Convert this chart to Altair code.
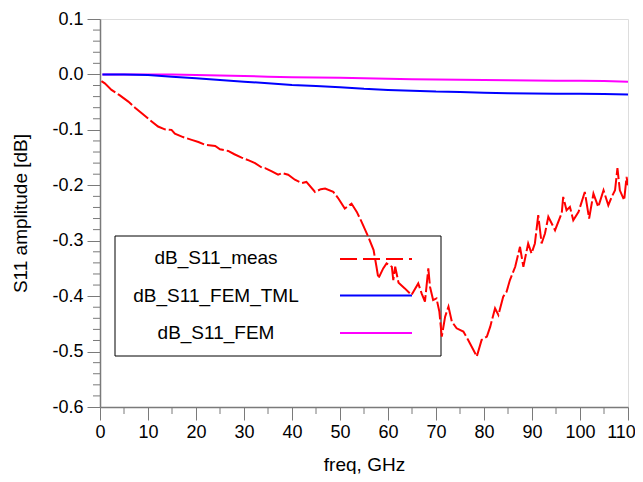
import altair as alt
import pandas as pd

# ---------------- data ----------------
freq_meas = [0.3, 1.0, 2.4, 4.0, 5.9, 7.3, 8.7, 10.5, 12.1, 13.5, 14.9, 15.6, 17.3, 19.1,
             20.5, 21.9, 24.0, 25.0, 26.7, 28.0, 29.5, 31.0, 32.3, 33.7, 34.4, 35.8, 37.1,
             38.0, 39.2, 40.6, 42.0, 43.0, 44.8, 46.0, 46.9, 48.6, 49.6, 51.0, 52.4, 53.5,
             54.5, 55.9, 57.0, 57.6, 58.0, 59.0, 59.7, 60.8, 61.1, 61.5, 62.2, 63.5, 64.9,
             66.3, 67.0, 67.7, 68.4, 68.75, 69.4, 70.1, 70.7, 71.2, 71.9, 72.6, 73.3, 74.3,
             75.7, 76.7, 77.8, 78.5, 79.5, 80.6, 81.3, 82.3, 83.0, 84.0, 84.7, 85.4, 86.5,
             87.5, 88.2, 89.2, 89.9, 90.6, 91.3, 92.0, 92.7, 93.4, 94.8, 96.2, 96.5, 97.2,
             97.9, 98.6, 99.7, 101.0, 101.9, 102.8, 103.8, 104.9, 105.9, 106.6, 107.3,
             107.8, 108.3, 109.2, 109.7, 110.0]
s11_meas = [-0.012, -0.016, -0.028, -0.037, -0.049, -0.060, -0.070, -0.083, -0.094, -0.099,
            -0.100, -0.107, -0.113, -0.118, -0.122, -0.127, -0.129, -0.135, -0.138, -0.144,
            -0.150, -0.155, -0.160, -0.168, -0.169, -0.175, -0.181, -0.178, -0.181, -0.190,
            -0.196, -0.194, -0.212, -0.207, -0.206, -0.212, -0.223, -0.242, -0.233, -0.248,
            -0.266, -0.293, -0.317, -0.347, -0.368, -0.350, -0.341, -0.347, -0.371, -0.347,
            -0.376, -0.386, -0.398, -0.377, -0.395, -0.410, -0.350, -0.383, -0.407, -0.404,
            -0.428, -0.473, -0.437, -0.419, -0.446, -0.458, -0.464, -0.479, -0.497, -0.509,
            -0.479, -0.473, -0.455, -0.422, -0.434, -0.401, -0.392, -0.371, -0.347, -0.311,
            -0.347, -0.305, -0.323, -0.305, -0.254, -0.305, -0.287, -0.257, -0.281, -0.250,
            -0.221, -0.245, -0.239, -0.263, -0.248, -0.212, -0.260, -0.215, -0.239, -0.209,
            -0.236, -0.221, -0.209, -0.169, -0.209, -0.227, -0.185, -0.200]

freq_model = [0.5, 5, 10, 15, 20, 25, 30, 35, 40, 45, 50, 55, 60, 65, 70, 75, 80, 85, 90,
              95, 100, 105, 110]
s11_fem_tml = [0.0, 0.0, -0.001, -0.004, -0.007, -0.010, -0.013, -0.016, -0.019, -0.021,
               -0.023, -0.026, -0.028, -0.0295, -0.031, -0.0315, -0.033, -0.034, -0.0345,
               -0.035, -0.035, -0.0355, -0.036]
s11_fem = [0.0, 0.0, 0.0, 0.0, -0.001, -0.002, -0.003, -0.004, -0.005, -0.0055, -0.006,
           -0.007, -0.008, -0.0085, -0.009, -0.0095, -0.010, -0.0105, -0.011, -0.0112,
           -0.0115, -0.012, -0.013]

legend_labels = ["dB_S11_meas", "dB_S11_FEM_TML", "dB_S11_FEM"]
series_colors = ["#ff0000", "#0000ff", "#ff00ff"]

x_ticks = list(range(0, 111, 10))
x_minor = list(range(5, 110, 10))
y_ticks = [-0.6, -0.5, -0.4, -0.3, -0.2, -0.1, 0.0, 0.1]
y_minor = [round(-0.6 + 0.02 * i, 2) for i in range(36) if i % 5]

# ---------------- chart ----------------
W, H = 528, 388
FONT = "Liberation Sans"
GREY = "#7a7a7a"

meas_df = pd.DataFrame({"freq": freq_meas, "s11": s11_meas})
model_df = pd.DataFrame({"freq": freq_model, "tml": s11_fem_tml, "fem": s11_fem})

xs = alt.Scale(domain=[0, 110], nice=False, zero=False)
ys = alt.Scale(domain=[-0.6, 0.1], nice=False, zero=False)

xaxis = alt.Axis(values=x_ticks, format="d", title="freq, GHz", grid=False,
                 tickSize=13, tickColor=GREY, tickWidth=1, domainColor=GREY, domainWidth=1.5,
                 labelFont=FONT, labelFontSize=18, labelColor="black", labelPadding=3,
                 labelFlush=False, labelOverlap=False,
                 labelOffset={"condition": {"test": "datum.value == 110", "value": -7},
                              "value": 0},
                 titleFont=FONT, titleFontSize=19, titleFontWeight="normal", titleColor="black",
                 titleY=63, titleBaseline="alphabetic", titleX=W / 2, titleAlign="center")
yaxis = alt.Axis(values=y_ticks, title="S11 amplitude [dB]", grid=False,
                 labelExpr="datum.value < -0.001 ? '-' + format(-datum.value, '.1f') : format(datum.value, '.1f')",
                 tickSize=13, tickColor=GREY, tickWidth=1, domainColor=GREY, domainWidth=1.5,
                 labelFont=FONT, labelFontSize=18, labelColor="black", labelPadding=4,
                 labelFlush=False, labelOverlap=False,
                 titleFont=FONT, titleFontSize=19, titleFontWeight="normal", titleColor="black",
                 titleAngle=270, titleX=-70, titleY=H / 2, titleAlign="center",
                 titleBaseline="bottom")

x_enc = alt.X("freq:Q", scale=xs, axis=xaxis)

fem_line = alt.Chart(model_df).mark_line(color=series_colors[2], strokeWidth=2, clip=True).encode(
    x=x_enc, y=alt.Y("fem:Q", scale=ys, axis=yaxis))
tml_line = alt.Chart(model_df).mark_line(color=series_colors[1], strokeWidth=2, clip=True).encode(
    x=x_enc, y=alt.Y("tml:Q", scale=ys, axis=yaxis))
meas_line = alt.Chart(meas_df).mark_line(color=series_colors[0], strokeWidth=2,
                                         strokeDash=[18, 3], clip=True).encode(
    x=x_enc, y=alt.Y("s11:Q", scale=ys, axis=yaxis))

# minor ticks
xminor = alt.Chart(pd.DataFrame({"freq": x_minor})).mark_rule(color=GREY, strokeWidth=1).encode(
    x=x_enc, y=alt.value(H), y2=alt.value(H + 7))
yminor = alt.Chart(pd.DataFrame({"v": y_minor})).mark_rule(color=GREY, strokeWidth=1).encode(
    y=alt.Y("v:Q", scale=ys, axis=yaxis), x=alt.value(0), x2=alt.value(-7))

# legend (box, labels, line samples)
one = pd.DataFrame({"k": [0]})
box = alt.Chart(one).mark_rect(fill=None, stroke="black", strokeWidth=1).encode(
    x=alt.value(15), x2=alt.value(341), y=alt.value(217), y2=alt.value(337))
label_y = [239, 277, 314]
line_y = [240, 276.5, 314]
dashes = [[17, 6], [1, 0], [1, 0]]
legend_layers = [box]
for i, lab in enumerate(legend_labels):
    legend_layers.append(
        alt.Chart(one).mark_text(text=lab, font=FONT, fontSize=19, color="black",
                                 align="center", baseline="middle").encode(
            x=alt.value(116), y=alt.value(label_y[i])))
    legend_layers.append(
        alt.Chart(one).mark_rule(color=series_colors[i], strokeWidth=2,
                                 strokeDash=dashes[i]).encode(
            x=alt.value(240), x2=alt.value(312), y=alt.value(line_y[i])))

chart = alt.layer(
    *legend_layers, xminor, yminor, fem_line, tml_line, meas_line
).properties(
    width=W, height=H,
    autosize=alt.AutoSizeParams(type="none"),
    padding={"left": 92, "top": 11, "right": 7, "bottom": 67},
).configure_view(stroke=GREY, strokeWidth=1.5).configure(background="white")

chart.save("out.html", embed_options={"renderer": "svg", "actions": False})
